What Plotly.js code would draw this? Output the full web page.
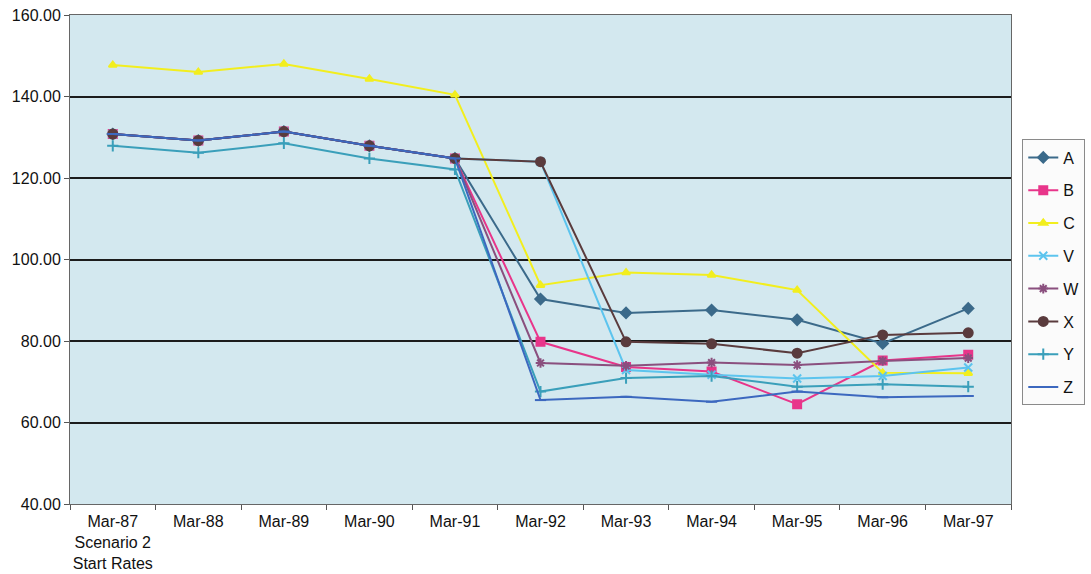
<!DOCTYPE html>
<html>
<head>
<meta charset="utf-8">
<script src="https://cdn.plot.ly/plotly-3.0.1.min.js"></script>
<style>
  html, body { margin: 0; padding: 0; background: #ffffff; }
  #chart { width: 1091px; height: 574px; }
</style>
</head>
<body>
<div id="chart"></div>
<script>
// Rate index per scenario, March of each year
const periods = ['Mar-87<br>Scenario 2<br>Start Rates', 'Mar-88', 'Mar-89', 'Mar-90', 'Mar-91',
                 'Mar-92', 'Mar-93', 'Mar-94', 'Mar-95', 'Mar-96', 'Mar-97'];

const seriesA = [130.8, 129.2, 131.4, 127.9, 124.8, 90.3, 86.9, 87.6, 85.2, 79.4, 88.0];
const seriesB = [130.8, 129.2, 131.4, 127.9, 124.8, 79.8, 73.6, 72.5, 64.5, 75.2, 76.6];
const seriesC = [147.7, 146.0, 148.0, 144.3, 140.4, 93.7, 96.8, 96.2, 92.5, 72.2, 72.1];
const seriesV = [130.8, 129.2, 131.4, 127.9, 124.8, 124.0, 72.9, 71.7, 70.8, 71.4, 73.5];
const seriesW = [130.8, 129.2, 131.4, 127.9, 124.8, 74.6, 73.9, 74.7, 74.1, 75.1, 75.8];
const seriesX = [130.8, 129.2, 131.4, 127.9, 124.8, 124.0, 79.8, 79.3, 77.0, 81.5, 82.0];
const seriesY = [127.9, 126.2, 128.5, 124.8, 122.1, 67.6, 70.9, 71.4, 68.8, 69.4, 68.8];
const seriesZ = [130.8, 129.2, 131.4, 127.9, 124.8, 65.5, 66.3, 65.1, 67.6, 66.2, 66.5];

const seriesNames = ['A', 'B', 'C', 'V', 'W', 'X', 'Y', 'Z'];
const seriesValues = [seriesA, seriesB, seriesC, seriesV, seriesW, seriesX, seriesY, seriesZ];
const seriesColors = ['#3b6a8a', '#e8358a', '#f2ee1e', '#5cc4ee', '#8a4f7e', '#5a3b3d', '#3a9fba', '#3c68bf'];
const seriesSymbols = ['diamond', 'square', 'triangle-up', 'x-thin-open', 'asterisk-open', 'circle', 'cross-thin-open', 'line-ew-open'];
const symbolSizes = [8, 8, 7, 8, 8, 9, 8, 8];

const traces = seriesNames.map((name, i) => ({
  type: 'scatter',
  mode: 'lines+markers',
  name: name,
  legendgroup: name,
  x: periods,
  y: seriesValues[i],
  line: { color: seriesColors[i], width: 2 },
  marker: {
    symbol: seriesSymbols[i],
    size: symbolSizes[i],
    color: seriesColors[i],
    line: { color: seriesColors[i], width: 2 }
  },
  cliponaxis: false
}));

const layout = {
  width: 1091,
  height: 574,
  margin: { l: 70, r: 80, t: 15, b: 70 },
  paper_bgcolor: '#ffffff',
  plot_bgcolor: '#d3e8ef',
  font: { family: 'Liberation Sans, Arial, sans-serif', size: 16, color: '#111111' },
  showlegend: true,
  legend: {
    xref: 'container', yref: 'container',
    x: 0.937, xanchor: 'left',
    y: 0.757, yanchor: 'top',
    bgcolor: '#fbfbfb',
    bordercolor: '#8a8a8a',
    borderwidth: 1,
    font: { size: 16, color: '#111111' },
    tracegroupgap: 9,
    itemwidth: 30
  },
  xaxis: {
    type: 'category',
    tickson: 'boundaries',
    ticks: 'outside',
    ticklen: 5,
    tickcolor: '#555555',
    showgrid: false,
    showline: true,
    linecolor: '#666666',
    linewidth: 1,
    mirror: true,
    tickangle: 0,
    tickfont: { size: 16 },
    ticklabelstandoff: 3,
    range: [-0.5, 10.5]
  },
  yaxis: {
    range: [40, 160],
    dtick: 20,
    tickformat: '.2f',
    ticks: 'outside',
    ticklen: 5,
    tickcolor: '#555555',
    showgrid: true,
    gridcolor: '#1c1c1c',
    gridwidth: 2,
    showline: true,
    linecolor: '#666666',
    linewidth: 1,
    mirror: true,
    zeroline: false,
    tickfont: { size: 16 }
  }
};

Plotly.newPlot('chart', traces, layout, { displayModeBar: false, staticPlot: true });
</script>
</body>
</html>
